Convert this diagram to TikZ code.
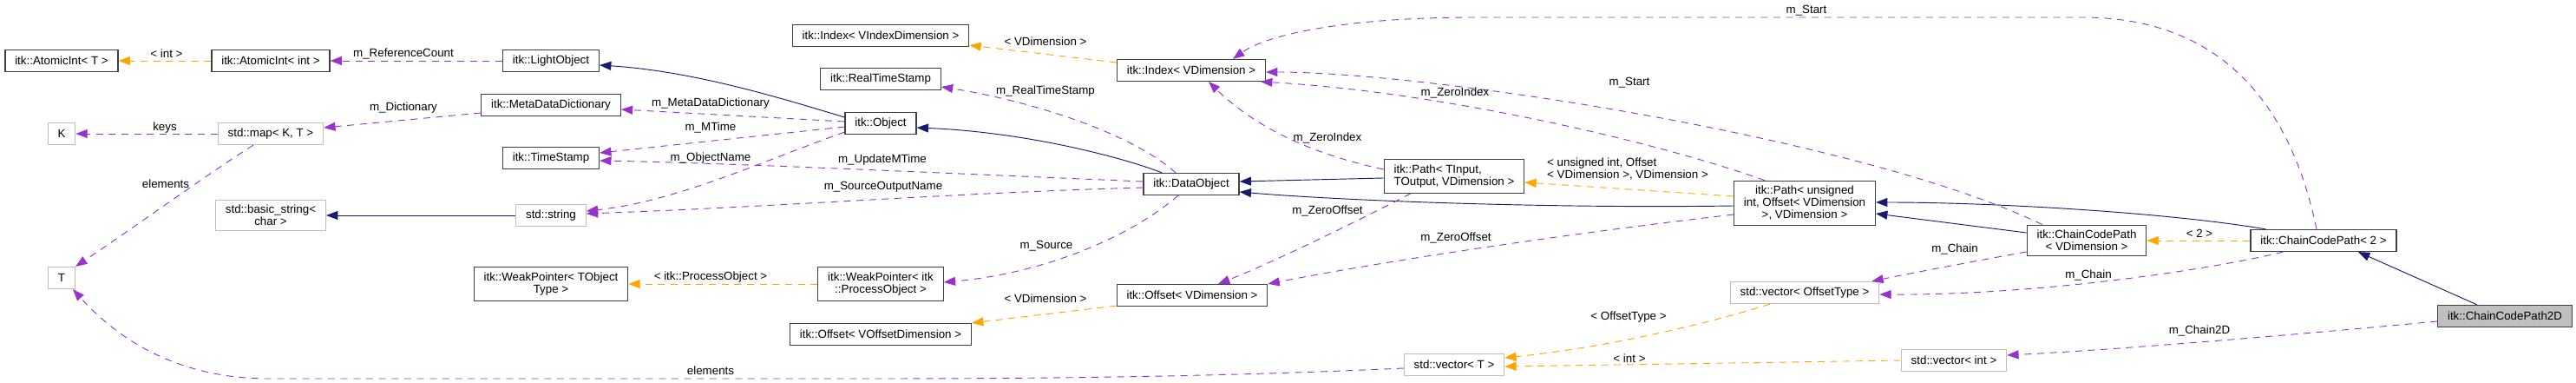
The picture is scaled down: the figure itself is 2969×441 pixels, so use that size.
\documentclass[tikz,border=0pt]{standalone}
\usepackage{fontspec}
\setmainfont{Liberation Sans}
\usepackage{xcolor}
\definecolor{mnblue}{RGB}{25,25,112}
\definecolor{orchid}{RGB}{153,50,204}
\definecolor{tplorange}{RGB}{255,165,0}
\definecolor{boxline}{RGB}{64,64,64}
\definecolor{extline}{RGB}{191,191,191}
\usetikzlibrary{arrows.meta,positioning,calc}

\begin{document}
\begin{tikzpicture}[
  x=0.75pt,y=-0.75pt,
  cls/.style={rectangle,draw=boxline,line width=0.9pt,fill=white,
              font=\fontsize{10}{10.5}\selectfont,inner xsep=8.5pt,inner ysep=4.5pt,
              minimum height=18.75pt,align=center},
  ext/.style={cls,draw=extline},
  cur/.style={cls,fill=extline},
  lbl/.style={font=\fontsize{10}{10.5}\selectfont,inner sep=0pt,align=left},
  inh/.style={draw=mnblue,line width=0.7pt,-{Triangle[length=10pt,width=7.5pt]}},
  uses/.style={draw=orchid,line width=0.7pt,dash pattern=on 6pt off 5pt,
               -{Triangle[length=10pt,width=7.5pt]}},
  tpl/.style={uses,draw=tplorange},
]
  \useasboundingbox (0,0) rectangle (2969,441);

  % classes
  \node[cls] (aiT)    at (71,70)    {itk::AtomicInt< T >};
  \node[cls] (aiInt)  at (312,70)   {itk::AtomicInt< int >};
  \node[ext] (kk)     at (71,154)   {K};
  \node[ext] (smap)   at (312,154)  {std::map< K, T >};
  \node[ext] (bstr)   at (312,248)  {std::basic\_string<\\char >};
  \node[ext] (tt)     at (71,320)   {T};
  \node[cls] (lobj)   at (635,70)   {itk::LightObject};
  \node[cls] (mdd)    at (635,121)  {itk::MetaDataDictionary};
  \node[cls] (tstamp) at (635,182)  {itk::TimeStamp};
  \node[ext] (sstr)   at (635,248)  {std::string};
  \node[cls] (wpT)    at (635,327)  {itk::WeakPointer< TObject\\Type >};
  \node[cls] (idxV)   at (1015,41)  {itk::Index< VIndexDimension >};
  \node[cls] (rts)    at (1015,91)  {itk::RealTimeStamp};
  \node[cls] (object) at (1015,142) {itk::Object};
  \node[cls] (wpPO)   at (1015,327) {itk::WeakPointer< itk\\::ProcessObject >};
  \node[cls] (offV)   at (1015,385) {itk::Offset< VOffsetDimension >};
  \node[cls] (idx)    at (1373,81)  {itk::Index< VDimension >};
  \node[cls] (dobj)   at (1373,212) {itk::DataObject};
  \node[cls] (off)    at (1374,340) {itk::Offset< VDimension >};
  \node[cls,align=left] (pathT) at (1676,203) {itk::Path< TInput,\\ TOutput, VDimension >};
  \node[ext] (vecT)   at (1676,420) {std::vector< T >};
  \node[cls] (pathU)  at (2080,234) {itk::Path< unsigned\\int, Offset< VDimension\\>, VDimension >};
  \node[ext] (vecOT)  at (2080,337) {std::vector< OffsetType >};
  \node[ext] (vecInt) at (2252,415) {std::vector< int >};
  \node[cls] (ccp)    at (2405,277) {itk::ChainCodePath\\< VDimension >};
  \node[cls] (ccp2)   at (2678,277) {itk::ChainCodePath< 2 >};
  \node[cur] (ccp2d)  at (2887,364) {itk::ChainCodePath2D};

  \coordinate (topR) at (2400,20);
  \coordinate (topL) at (1700,20);
  \coordinate (botR) at (1000,436);
  \coordinate (botL) at (310,436);

  % inheritance
  \draw[inh] ($(object.west)+(0,-7)$) .. controls (900,113) and (800,82) .. ($(lobj.east)+(0,5)$);
  \draw[inh] ($(dobj.north west)+(22,0)$) .. controls (1290,180) and (1180,152) .. ($(object.east)+(0,5)$);
  \draw[inh] ($(pathT.west)+(0,2)$) -- ($(dobj.east)+(0,-3)$);
  \draw[inh] ($(pathU.west)+(0,3)$) .. controls (1800,240) and (1560,232) .. ($(dobj.east)+(0,9)$);
  \draw[inh] (sstr.west) -- (bstr.east);
  \draw[inh] ($(ccp.west)+(0,-9)$) -- ($(pathU.east)+(0,12)$);
  \draw[inh] ($(ccp2.north west)+(18,0)$) .. controls (2500,245) and (2300,233) .. ($(pathU.east)+(0,-1)$);
  \draw[inh] ($(ccp2d.north)+(-32,0)$) -- ($(ccp2.south)+(40,0)$);

  % members
  \draw[uses] (lobj.west) -- (aiInt.east);
  \draw[uses] ($(mdd.west)+(0,9)$) -- ($(smap.east)+(0,-7)$);
  \draw[uses] (smap.west) -- (kk.east);
  \draw[uses] ($(smap.south)+(-20,0)$) .. controls (240,200) and (150,265) .. (tt.north east);
  \draw[uses] ($(object.west)+(0,-2)$) -- ($(mdd.east)+(0,5)$);
  \draw[uses] ($(object.west)+(0,4)$) -- ($(tstamp.east)+(0,-6)$);
  \draw[uses] ($(dobj.west)+(0,-3)$) .. controls (1100,200) and (850,188) .. ($(tstamp.east)+(0,3)$);
  \draw[uses] ($(object.south west)+(0,-3)$) .. controls (880,185) and (780,232) .. ($(sstr.east)+(0,-5)$);
  \draw[uses] ($(dobj.west)+(0,4)$) .. controls (1100,222) and (900,238) .. ($(sstr.east)+(0,-2)$);
  \draw[uses] ($(dobj.north)+(-18,0)$) .. controls (1300,150) and (1180,115) .. ($(rts.east)+(0,9)$);
  \draw[uses] ($(dobj.south)+(-15,0)$) .. controls (1300,275) and (1200,315) .. ($(wpPO.east)+(0,-2)$);
  \draw[uses] ($(pathT.west)+(0,-8)$) .. controls (1500,175) and (1440,140) .. ($(idx.south)+(20,0)$);
  \draw[uses] ($(pathT.south)+(-50,0)$) .. controls (1550,262) and (1460,305) .. ($(off.north)+(30,0)$);
  \draw[uses] ($(pathU.north west)+(36,0)$) .. controls (1900,160) and (1650,105) .. ($(idx.south east)+(-6,0)$);
  \draw[uses] ($(pathU.west)+(0,13)$) .. controls (1800,270) and (1600,300) .. (off.north east);
  \draw[uses] ($(ccp.north west)+(18,0)$) .. controls (2150,160) and (1650,83) .. ($(idx.east)+(0,2)$);
  \draw[uses] ($(ccp2.north)+(-8,0)$) .. controls (2640,120) and (2560,20) .. (topR) -- (topL)
              .. controls (1550,20) and (1460,40) .. ($(idx.north)+(48,0)$);
  \draw[uses] ($(ccp.west)+(0,13)$) .. controls (2280,300) and (2200,315) .. ($(vecOT.north east)+(-9,0)$);
  \draw[uses] ($(ccp2.south west)+(38,0)$) .. controls (2550,310) and (2350,340) .. ($(vecOT.east)+(0,2)$);
  \draw[uses] ($(ccp2d.west)+(0,6)$) .. controls (2650,385) and (2450,402) .. ($(vecInt.east)+(0,-6)$);
  \draw[uses] ($(vecT.west)+(0,4)$) .. controls (1400,434) and (1200,436) .. (botR) -- (botL)
              .. controls (210,436) and (140,395) .. ($(tt.south east)+(-3,0)$);

  % template instances
  \draw[tpl] (aiInt.west) -- (aiT.east);
  \draw[tpl] (wpPO.west) -- (wpT.east);
  \draw[tpl] ($(idx.west)+(0,-9)$) -- ($(idxV.south east)+(0,-2)$);
  \draw[tpl] ($(off.south west)+(0,-1)$) -- (offV.north east);
  \draw[tpl] ($(pathU.west)+(0,-8)$) -- ($(pathT.east)+(0,7)$);
  \draw[tpl] (ccp2.west) -- (ccp.east);
  \draw[tpl] ($(vecOT.south)+(-40,0)$) .. controls (1960,375) and (1850,400) .. ($(vecT.east)+(0,-8)$);
  \draw[tpl] (vecInt.west) -- ($(vecT.east)+(0,2)$);

  % edge labels
  \node[lbl] (lRef)   at (465,62)   {m\_ReferenceCount};
  \node[lbl] (lAi)    at (192,62)   {< int >};
  \node[lbl] (lDict)  at (465,124)  {m\_Dictionary};
  \node[lbl] (lKeys)  at (190,147)  {keys};
  \node[lbl] (lElA)   at (191,212)  {elements};
  \node[lbl] (lMdd)   at (819,119)  {m\_MetaDataDictionary};
  \node[lbl] (lMt)    at (819,147)  {m\_MTime};
  \node[lbl] (lOn)    at (819,182)  {m\_ObjectName};
  \node[lbl] (lUmt)   at (1017,184) {m\_UpdateMTime};
  \node[lbl] (lSon)   at (1018,215) {m\_SourceOutputName};
  \node[lbl] (lIdxV)  at (1205,48)  {< VDimension >};
  \node[lbl] (lRts)   at (1205,105) {m\_RealTimeStamp};
  \node[lbl] (lZiA)   at (1530,159) {m\_ZeroIndex};
  \node[lbl] (lZoA)   at (1530,243) {m\_ZeroOffset};
  \node[lbl] (lSrc)   at (1206,283) {m\_Source};
  \node[lbl] (lPO)    at (819,319)  {< itk::ProcessObject >};
  \node[lbl] (lOffV)  at (1205,344) {< VDimension >};
  \node[lbl] (lElB)   at (819,427)  {elements};
  \node[lbl] (lStA)   at (1878,95)  {m\_Start};
  \node[lbl] (lZiB)   at (1677,107) {m\_ZeroIndex};
  \node[lbl] (lPath)  at (1876,195) {< unsigned int, Offset\\< VDimension >, VDimension >};
  \node[lbl] (lZoB)   at (1678,274) {m\_ZeroOffset};
  \node[lbl] (lOT)    at (1877,365) {< OffsetType >};
  \node[lbl] (lInt)   at (1878,413) {< int >};
  \node[lbl] (lStB)   at (2082,12)  {m\_Start};
  \node[lbl] (lChA)   at (2253,287) {m\_Chain};
  \node[lbl] (lChB)   at (2407,317) {m\_Chain};
  \node[lbl] (lCh2)   at (2535,381) {m\_Chain2D};
  \node[lbl] (lTwo)   at (2535,269) {< 2 >};
\end{tikzpicture}
\end{document}
